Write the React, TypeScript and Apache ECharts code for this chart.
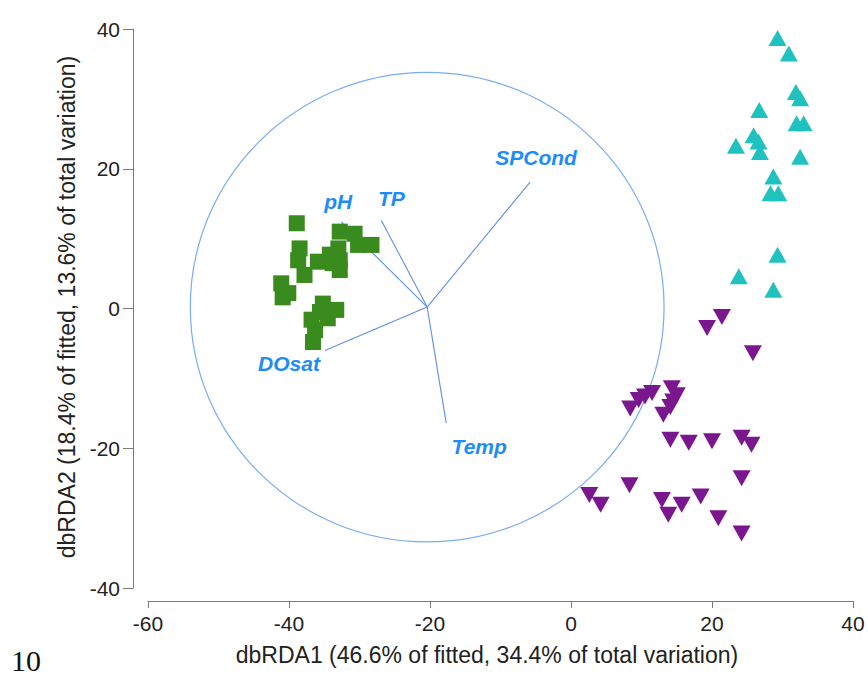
import React, { useEffect, useRef } from "react";
import * as echarts from "echarts";

// ---- data ----
const greenSites: [number, number][] = [
  [-38.9, 12.2], [-32.8, 11.0], [-30.7, 10.7], [-28.3, 9.1], [-30.2, 9.1],
  [-38.5, 8.6], [-38.7, 6.9], [-37.8, 4.8], [-35.9, 6.7], [-34.2, 7.7],
  [-33.0, 8.6], [-32.8, 6.9], [-32.8, 5.5], [-33.8, 6.5], [-41.1, 3.6],
  [-40.1, 2.2], [-40.9, 1.6], [-35.2, 0.7], [-33.3, -0.2], [-36.8, -1.6],
  [-34.5, -1.4], [-36.3, -3.1], [-36.6, -4.8], [-35.6, -0.5],
];

const cyanSites: [number, number][] = [
  [29.3, 38.7], [30.9, 36.5], [31.9, 31.0], [32.5, 30.1], [26.7, 28.4],
  [32.0, 26.5], [33.0, 26.5], [25.9, 24.8], [26.6, 23.9], [23.4, 23.3],
  [26.8, 22.4], [32.5, 21.7], [28.7, 18.9], [28.3, 16.5], [29.4, 16.5],
  [29.3, 7.7], [23.8, 4.6], [28.7, 2.7],
];

const purpleSites: [number, number][] = [
  [21.4, -1.2], [19.3, -2.8], [25.8, -6.4], [14.3, -11.4], [15.0, -12.4],
  [11.5, -12.1], [10.5, -12.6], [9.6, -13.1], [8.4, -14.3], [14.5, -13.3],
  [14.1, -14.1], [13.1, -15.2], [14.1, -18.8], [16.7, -19.2], [20.0, -19.0],
  [24.2, -18.5], [25.6, -19.5], [24.2, -24.3], [8.3, -25.3], [2.6, -26.7],
  [4.2, -28.1], [12.9, -27.4], [13.8, -29.5], [15.7, -28.1], [18.4, -26.9],
  [20.9, -30.0], [24.2, -32.2],
];

const vectorNames = ["SPCond", "TP", "pH", "DOsat", "Temp"];
const vectorX = [-5.8, -26.9, -32.6, -34.9, -17.7];
const vectorY = [18.1, 12.6, 12.4, -6.0, -16.4];
const vectorOrigin: [number, number] = [-20.4, 0.2];
const circleRadius = 33.6;

const xTicks = { min: -60, max: 40, interval: 20 };
const yTicks = { min: -40, max: 40, interval: 20 };

const xTitle = "dbRDA1 (46.6% of fitted, 34.4% of total variation)";
const yTitle = "dbRDA2 (18.4% of fitted, 13.6% of total variation)";
const pageNumber = "10";

// label offsets (pixels) relative to each vector tip
const labelOffsets: [number, number][] = [
  [6, -25], [10, -22], [-3, -20], [-36, 13], [33, 23],
];

const SANS = "'Liberation Sans', Arial, Helvetica, sans-serif";

export default function App() {
  const ref = useRef<HTMLDivElement>(null);

  useEffect(() => {
    if (!ref.current) return;
    const chart = echarts.init(ref.current, undefined, { renderer: "svg" });

    const axisCommon = {
      type: "value" as const,
      splitLine: { show: false },
      axisLine: { show: true, onZero: false, lineStyle: { color: "#7a7a7a", width: 1 } },
      axisTick: { show: true, inside: false, lineStyle: { color: "#7a7a7a", width: 1 } },
      axisLabel: { color: "#222", fontSize: 21, fontFamily: SANS },
    };

    const option: any = {
      animation: false,
      backgroundColor: "#ffffff",
      grid: { left: 148, right: 15, top: 29, bottom: 91, containLabel: false },
      xAxis: {
        ...axisCommon,
        min: xTicks.min,
        max: xTicks.max,
        interval: xTicks.interval,
        position: "bottom",
        offset: 13,
        axisTick: { ...axisCommon.axisTick, length: 7 },
        axisLabel: { ...axisCommon.axisLabel, margin: 12 },
      },
      yAxis: {
        ...axisCommon,
        min: yTicks.min,
        max: yTicks.max,
        interval: yTicks.interval,
        position: "left",
        offset: 15,
        axisTick: { ...axisCommon.axisTick, length: 10 },
        axisLabel: { ...axisCommon.axisLabel, margin: 13 },
      },
      series: [
        {
          type: "custom",
          name: "circle",
          silent: true,
          clip: false,
          data: [[vectorOrigin[0], vectorOrigin[1], circleRadius]],
          encode: { x: 0, y: 1 },
          renderItem: (_params: any, api: any) => {
            const c = api.coord([api.value(0), api.value(1)]);
            const e = api.coord([api.value(0) + api.value(2), api.value(1)]);
            const t = api.coord([api.value(0), api.value(1) + api.value(2)]);
            return {
              type: "ellipse",
              shape: { cx: c[0], cy: c[1], rx: e[0] - c[0], ry: c[1] - t[1] },
              style: { fill: "none", stroke: "#78adf0", lineWidth: 1.2 },
            };
          },
          z: 1,
        },
        {
          type: "custom",
          name: "vectors",
          silent: true,
          clip: false,
          data: vectorNames.map((n, i) => ({ name: n, value: [vectorX[i], vectorY[i]] })),
          encode: { x: 0, y: 1 },
          renderItem: (params: any, api: any) => {
            const o = api.coord(vectorOrigin);
            const e = api.coord([api.value(0), api.value(1)]);
            const i = params.dataIndex;
            const off = labelOffsets[i];
            return {
              type: "group",
              children: [
                {
                  type: "line",
                  shape: { x1: o[0], y1: o[1], x2: e[0], y2: e[1] },
                  style: { stroke: "#5e8fe2", lineWidth: 1.1 },
                },
                {
                  type: "text",
                  x: e[0] + off[0],
                  y: e[1] + off[1],
                  style: {
                    text: vectorNames[i],
                    fill: "#1f8cf5",
                    fontSize: 21,
                    fontWeight: "bold",
                    fontStyle: "italic",
                    fontFamily: SANS,
                    align: "center",
                    verticalAlign: "middle",
                  },
                },
              ],
            };
          },
          z: 2,
        },
        {
          type: "scatter",
          name: "green",
          data: greenSites,
          symbol: "rect",
          symbolSize: 16,
          itemStyle: { color: "#3a8b1e", opacity: 1 },
          z: 3,
        },
        {
          type: "scatter",
          name: "cyan",
          data: cyanSites,
          symbol: "triangle",
          symbolSize: [18, 16],
          itemStyle: { color: "#20c2bf", opacity: 1 },
          z: 3,
        },
        {
          type: "scatter",
          name: "purple",
          data: purpleSites,
          symbol: "triangle",
          symbolRotate: 180,
          symbolSize: [18, 16],
          itemStyle: { color: "#7a168e", opacity: 1 },
          z: 3,
        },
      ],
      graphic: [
        {
          type: "text",
          x: 487,
          y: 655,
          style: {
            text: xTitle,
            fill: "#222",
            fontSize: 23,
            fontFamily: SANS,
            align: "center",
            verticalAlign: "middle",
          },
        },
        {
          type: "text",
          x: 67,
          y: 307,
          rotation: Math.PI / 2,
          style: {
            text: yTitle,
            fill: "#222",
            fontSize: 23,
            fontFamily: SANS,
            align: "center",
            verticalAlign: "middle",
          },
        },
        {
          type: "text",
          x: 11,
          y: 660,
          style: {
            text: pageNumber,
            fill: "#111",
            fontSize: 30,
            fontFamily: "'Liberation Serif', 'DejaVu Serif', serif",
            align: "left",
            verticalAlign: "middle",
          },
        },
      ],
    };

    chart.setOption(option);
    return () => chart.dispose();
  }, []);

  return (
    <div
      ref={ref}
      style={{ position: "fixed", left: 0, top: 0, width: 868, height: 679, background: "#fff" }}
    />
  );
}
